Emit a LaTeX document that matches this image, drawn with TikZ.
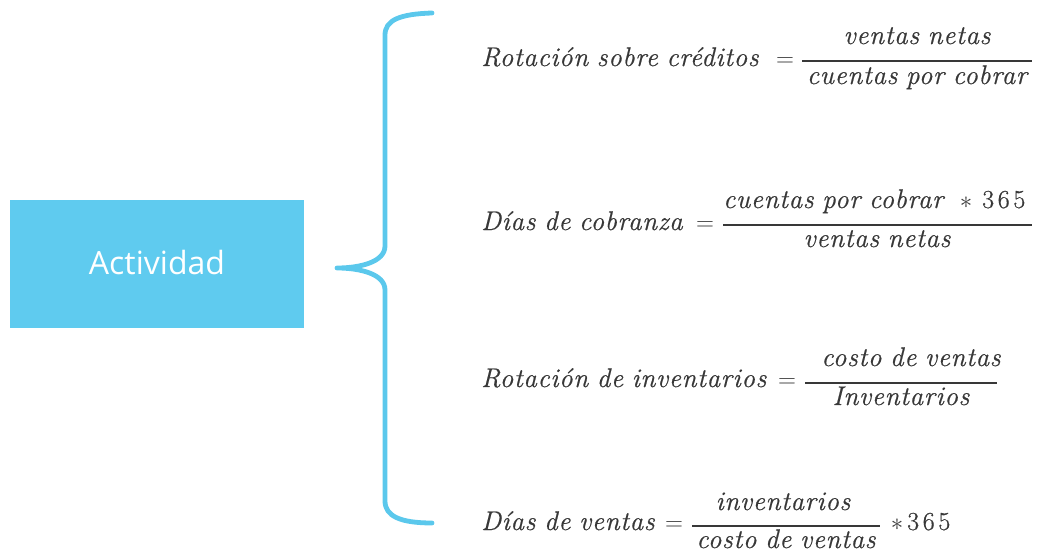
\documentclass[tikz,border=0pt]{standalone}
\usepackage{amsmath}
\usepackage{fontspec}
\newfontfamily\boxfont{Open Sans}
\newfontfamily\formfont[LetterSpace=2.5,WordSpace=0.85,FakeBold=0.6]{Latin Modern Roman}
\newfontfamily\digitfont[LetterSpace=14,FakeBold=0.6]{Latin Modern Roman}
\definecolor{boxblue}{HTML}{5FCBEF}
\definecolor{braceblue}{HTML}{5BC8EC}
\definecolor{formgray}{HTML}{383838}
\tikzset{
  catbox/.style={fill=boxblue, draw=none, minimum width=294pt, minimum height=128pt, inner sep=0pt},
  cattext/.style={text=white, font=\boxfont\fontsize{32}{36}\selectfont},
  ftext/.style={inner sep=0pt, text=formgray, font=\formfont\itshape\fontsize{27}{31}\selectfont},
  flabel/.style={ftext, anchor=base west},
  fpart/.style={ftext, anchor=base},
  fup/.style={inner sep=0pt, text=formgray, font=\fontsize{26}{30}\selectfont, anchor=base},
  fnum/.style={inner sep=0pt, text=formgray, font=\digitfont\fontsize{26}{30}\selectfont},
  fbar/.style={draw=formgray, line width=1.6pt},
  bracestyle/.style={draw=braceblue, line width=4.8pt, line cap=round, line join=round}
}
\begin{document}
\begin{tikzpicture}[x=1pt,y=-1pt]
\useasboundingbox (0,0) rectangle (1037,554);
% category box
\node[catbox] (act) at (157,264) {};
\node[cattext] (acttext) at (157,262) {Actividad};
% brace
\coordinate (tip) at (337,268);
\draw[bracestyle] (432,13) .. controls (400,14) and (385,20) .. (385,35)
  -- (385,246) .. controls (385,262) and (360,268) .. (tip)
  .. controls (360,268) and (385,274) .. (385,290)
  -- (385,501) .. controls (385,516) and (400,523) .. (432,523);
% row 1 (bar at y=61)
\node[flabel] (l1) at (481,66) {Rotación sobre créditos};
\node[fup] (e1) at (785,66) {$=$};
\draw[fbar] (802,61) -- (1032,61);
\node[fpart] (n1) at (917,44) {ventas netas};
\node[fpart] (d1) at (917,84) {cuentas por cobrar};
% row 2 (bar at y=225)
\node[flabel] (l2) at (481,230) {Días de cobranza};
\node[fup] (e2) at (705,230) {$=$};
\draw[fbar] (723,225) -- (1032,225);
\node[ftext, anchor=base west] (n2) at (723,208) {cuentas por cobrar};
\node[fup] (n2s) at (966,208) {$\ast$};
\node[fnum, anchor=base west] (n2n) at (982,208) {365};
\node[fpart] (d2) at (877,247) {ventas netas};
% row 3 (bar at y=383)
\node[flabel] (l3) at (481,387) {Rotación de inventarios};
\node[fup] (e3) at (787,387) {$=$};
\draw[fbar] (805,383) -- (997,383);
\node[fpart] (n3) at (911,366) {costo de ventas};
\node[fpart] (d3) at (901,405) {Inventarios};
% row 4 (bar at y=526)
\node[flabel] (l4) at (481,530) {Días de ventas};
\node[fup] (e4) at (674,530) {$=$};
\draw[fbar] (692,526) -- (880,526);
\node[fpart] (n4) at (783,510) {inventarios};
\node[fpart] (d4) at (786,548) {costo de ventas};
\node[fup] (s4) at (897,530) {$\ast$};
\node[fnum, anchor=base west] (n4n) at (907,530) {365};
\end{tikzpicture}
\end{document}
